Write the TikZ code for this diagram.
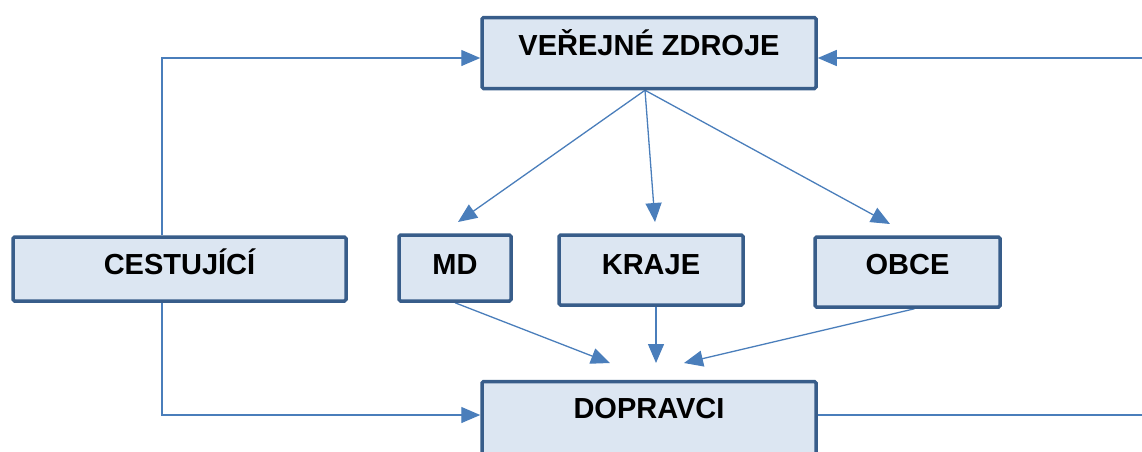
\documentclass[tikz,border=0pt]{standalone}
\usepackage{fontspec}
\setmainfont{Liberation Sans}
\usetikzlibrary{arrows.meta,backgrounds}
\definecolor{boxfill}{HTML}{DCE6F2}
\definecolor{boxline}{HTML}{385D8A}
\definecolor{arrowc}{HTML}{4A7EBB}
\tikzset{
  box/.style={draw=boxline, fill=boxfill, line width=3.5pt, rounded corners=1.5pt,
    inner sep=0pt, font=\fontsize{29}{32}\selectfont\bfseries, text height=23pt},
  conn/.style={draw=arrowc, line width=1.3pt},
  arr/.style={conn, -{Triangle[length=19pt,width=16pt]}}
}
\begin{document}
\begin{tikzpicture}[x=1pt,y=-1pt]
\useasboundingbox (0,0) rectangle (1142,451);
\clip (0,0) rectangle (1142,451);
\node[box, minimum width=334pt, minimum height=71pt, text depth=18pt] (vz) at (649,53) {VEŘEJNÉ ZDROJE};
\node[box, minimum width=333pt, minimum height=64pt, text depth=13pt] (ces) at (179.5,269) {CESTUJÍCÍ};
\node[box, minimum width=112pt, minimum height=66pt, text depth=11pt] (md) at (455,268) {MD};
\node[box, minimum width=184pt, minimum height=70pt, text depth=15pt] (kraje) at (651,270) {KRAJE};
\node[box, minimum width=185pt, minimum height=70pt, text depth=18pt] (obce) at (907.5,272) {OBCE};
\node[box, minimum width=334pt, minimum height=77pt, text depth=26pt] (dop) at (649,420) {DOPRAVCI};
\coordinate (c1) at (162,58);
\coordinate (c2) at (162,415);
\coordinate (r1) at (1142,58);
\coordinate (r2) at (1142,415);
\coordinate (tmd) at (458,222);
\coordinate (tkr) at (655,222);
\coordinate (tob) at (890,224);
\coordinate (dmd) at (610,363);
\coordinate (dkr) at (656,363);
\coordinate (dob) at (684,363);
\begin{scope}[on background layer]
\draw[arr] (ces.north -| c1) -- (c1) -- (vz.west |- c1);
\draw[arr] (ces.south -| c2) -- (c2) -- (dop.west |- c2);
\draw[arr] (r1) -- (vz.east |- r1);
\draw[conn] (dop.east |- r2) -- (r2);
\draw[arr] ([xshift=-4pt]vz.south) -- (tmd);
\draw[arr] ([xshift=-4pt]vz.south) -- (tkr);
\draw[arr] ([xshift=-4pt]vz.south) -- (tob);
\draw[arr] (md.south) -- (dmd);
\draw[arr] ([xshift=5pt]kraje.south) -- (dkr);
\draw[arr] ([xshift=7pt]obce.south) -- (dob);
\end{scope}
\end{tikzpicture}
\end{document}
